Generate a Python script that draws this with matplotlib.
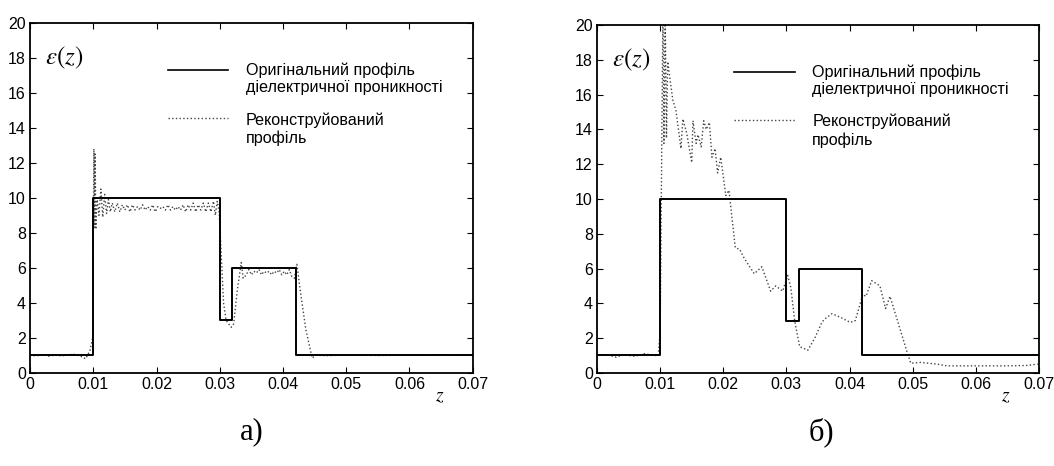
import numpy as np
import matplotlib
matplotlib.use("Agg")
import matplotlib.pyplot as plt

plt.rcParams['mathtext.fontset'] = 'stix'

# original (step) profile, same for both panels
z_orig = [0.0, 0.01, 0.01, 0.03, 0.03, 0.032, 0.032, 0.042, 0.042, 0.07]
e_orig = [1, 1, 10, 10, 3, 3, 6, 6, 1, 1]

# panel a) reconstructed profile
z_rec_a = [0.0, 0.001, 0.002, 0.003, 0.004, 0.005, 0.006, 0.007, 0.008, 0.0088, 0.0095, 0.0099,
           0.0101, 0.0102, 0.0103, 0.0104, 0.0106, 0.0109, 0.0112, 0.0115, 0.0118, 0.0121, 0.0124, 0.0127, 0.0130,
           0.0134, 0.0138, 0.0142, 0.0146, 0.0150, 0.0154, 0.0158, 0.0162, 0.0166, 0.0170,
           0.0174, 0.0178, 0.0182, 0.0186, 0.0190, 0.0194, 0.0198, 0.0202, 0.0206, 0.0210,
           0.0214, 0.0218, 0.0222, 0.0226, 0.0230, 0.0234, 0.0238, 0.0242, 0.0246, 0.0250,
           0.0254, 0.0258, 0.0262, 0.0266, 0.0270, 0.0274, 0.0278, 0.0282, 0.0286, 0.0290,
           0.0293, 0.0296, 0.0299, 0.0302, 0.0306, 0.0310, 0.0318, 0.0322, 0.0328, 0.0334, 0.0337,
           0.0342, 0.0346, 0.0350, 0.0354, 0.0358, 0.0362, 0.0366, 0.0370, 0.0374, 0.0378,
           0.0382, 0.0386, 0.0390, 0.0394, 0.0398, 0.0402, 0.0406, 0.0410, 0.0414,
           0.0418, 0.0422, 0.0428, 0.0436, 0.0446, 0.0452, 0.047, 0.05, 0.055, 0.06, 0.065, 0.07]
e_rec_a = [1.0, 0.97, 1.03, 0.95, 1.02, 0.96, 1.04, 1.05, 0.95, 0.8, 1.3, 2.0,
           12.8, 8.3, 12.5, 8.2, 10.0, 9.0, 10.5, 8.9, 10.2, 9.1, 9.9, 9.2, 9.7,
           9.2, 9.7, 9.2, 9.6, 9.3, 9.6, 9.2, 9.6, 9.3, 9.5,
           9.3, 9.6, 9.3, 9.5, 9.3, 9.6, 9.2, 9.5, 9.4, 9.5,
           9.3, 9.6, 9.3, 9.5, 9.3, 9.5, 9.3, 9.6, 9.2, 9.6,
           9.3, 9.7, 9.2, 9.6, 9.3, 9.7, 9.2, 9.7, 9.2, 9.8,
           9.0, 9.8, 9.2, 7.0, 4.0, 3.0, 2.6, 2.8, 4.8, 6.3, 5.4,
           5.6, 5.9, 5.6, 5.8, 5.7, 5.9, 5.6, 5.8, 5.7, 5.8,
           5.6, 5.8, 5.7, 5.9, 5.6, 5.8, 5.6, 5.9, 5.5,
           5.4, 6.2, 4.5, 2.5, 0.85, 1.0, 0.98, 1.02, 0.99, 1.01, 1.03, 1.0]

# panel б) reconstructed profile
z_rec_b = [0.0, 0.001, 0.002, 0.003, 0.004, 0.005, 0.006, 0.0075, 0.009, 0.0097, 0.0100,
           0.01045, 0.0106, 0.0108, 0.0110, 0.0112, 0.0120, 0.0125, 0.0133, 0.0136, 0.0142,
           0.0150, 0.0152, 0.0157, 0.0160, 0.0165, 0.0169, 0.0173, 0.0178, 0.0182, 0.0187,
           0.0191, 0.0196, 0.0204, 0.0209, 0.0219, 0.0226, 0.0233, 0.0249, 0.0261, 0.0275,
           0.0283, 0.0294, 0.0302, 0.0307, 0.0313, 0.0321, 0.0334, 0.0345, 0.0356, 0.0361,
           0.0372, 0.0385, 0.0401, 0.0409, 0.0421, 0.0426, 0.0435, 0.0448, 0.0457, 0.0464,
           0.0491, 0.0497, 0.0512, 0.0538, 0.0554, 0.060, 0.065, 0.068, 0.0698]
e_rec_b = [1.0, 1.05, 1.0, 0.9, 1.02, 1.0, 0.95, 1.1, 1.0, 1.0, 2.3,
           21.0, 13.2, 20.5, 13.5, 17.9, 15.7, 15.1, 12.9, 14.6, 13.8,
           12.1, 14.5, 13.2, 13.7, 13.0, 14.5, 14.0, 14.4, 12.4, 12.9,
           11.5, 12.4, 10.2, 10.5, 7.2, 7.1, 6.6, 5.7, 6.1, 4.7,
           5.0, 4.7, 5.6, 4.9, 3.0, 1.5, 1.3, 2.0, 2.9, 3.1,
           3.4, 3.2, 2.9, 3.0, 4.5, 4.4, 5.3, 5.0, 3.7, 4.4,
           1.2, 0.55, 0.6, 0.5, 0.4, 0.4, 0.4, 0.42, 0.5]

xticks = [0, 0.01, 0.02, 0.03, 0.04, 0.05, 0.06, 0.07]
xticklabels = ["0", "0.01", "0.02", "0.03", "0.04", "0.05", "0.06", "0.07"]
yticks = [0, 2, 4, 6, 8, 10, 12, 14, 16, 18, 20]

legend_orig = "Оригінальний профіль\nдіелектричної проникності"
legend_rec = "Реконструйований\nпрофіль"
panel_labels = ["а)", "б)"]

tick_font = ['Liberation Sans Narrow', 'Liberation Sans', 'DejaVu Sans']
text_font = ['Liberation Sans', 'DejaVu Sans']

fig = plt.figure(figsize=(10.54, 4.66), dpi=100)
ax_a = fig.add_axes([0.0285, 0.200, 0.420, 0.751])
ax_b = fig.add_axes([0.5664, 0.200, 0.4194, 0.746])

panels = [(ax_a, z_rec_a, e_rec_a), (ax_b, z_rec_b, e_rec_b)]
for i, (ax, zr, er) in enumerate(panels):
    ax.plot(zr, er, linestyle=':', color='#444444', lw=1.0, clip_on=True)
    ax.plot(z_orig, e_orig, color='black', lw=1.4)
    ax.set_xlim(0, 0.07)
    ax.set_ylim(0, 20)
    ax.set_xticks(xticks)
    ax.set_xticklabels(xticklabels)
    ax.set_yticks(yticks)
    ax.tick_params(direction='in', top=True, right=True, length=4, width=0.8,
                   labelsize=11.5, pad=3)
    for lab in ax.get_xticklabels() + ax.get_yticklabels():
        lab.set_family(tick_font)
    for sp in ax.spines.values():
        sp.set_linewidth(1.3)

    # ε(z) label and z axis label
    ax.text(0.034, 0.90, r'$\varepsilon(z)$', transform=ax.transAxes,
            fontsize=18, va='center', ha='left')
    ax.text(0.925, -0.066, r'$z$', transform=ax.transAxes,
            fontsize=14, va='center', ha='center')

    # hand-placed legend
    ax.plot([0.311, 0.448], [0.866, 0.866], color='black', lw=1.2, transform=ax.transAxes)
    ax.text(0.487, 0.840, legend_orig, transform=ax.transAxes, fontsize=11.6,
            family=text_font, va='center', ha='left', linespacing=1.15)
    ax.plot([0.311, 0.448], [0.727, 0.727], color='#444444', lw=1.0, ls=':',
            transform=ax.transAxes)
    ax.text(0.487, 0.696, legend_rec, transform=ax.transAxes, fontsize=11.6,
            family=text_font, va='center', ha='left', linespacing=1.25)

fig.text(0.239, 0.073, panel_labels[0], fontsize=22, family=['Liberation Serif', 'DejaVu Serif'],
         ha='center', va='center')
fig.text(0.779, 0.073, panel_labels[1], fontsize=22, family=['Liberation Serif', 'DejaVu Serif'],
         ha='center', va='center')

fig.savefig("out.png", dpi=100)
